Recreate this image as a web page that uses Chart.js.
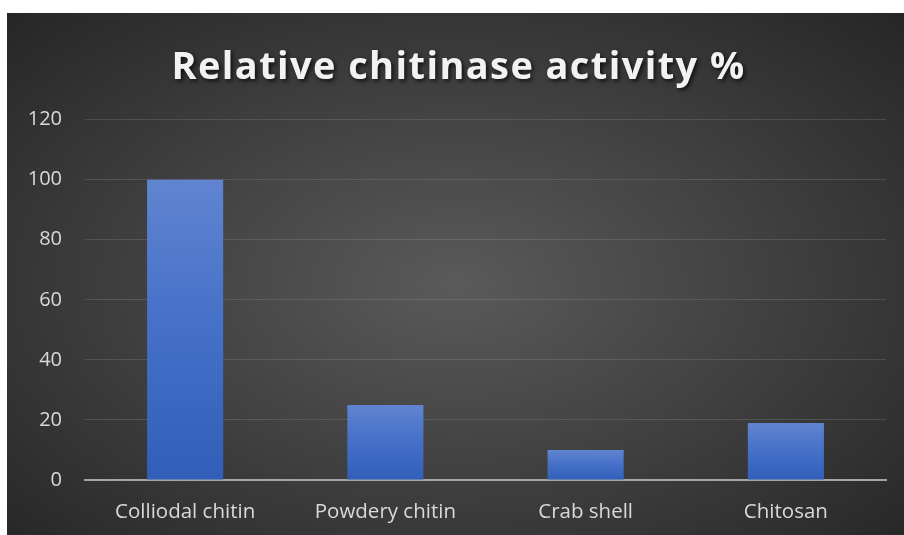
<!DOCTYPE html>
<html>
<head>
<meta charset="utf-8">
<script src="https://cdn.jsdelivr.net/npm/chart.js@4/dist/chart.umd.min.js"></script>
<style>
  html, body { margin: 0; padding: 0; background: #fff; }
  #frame {
    position: absolute; left: 7px; top: 13px; width: 897px; height: 522px;
    background: radial-gradient(ellipse at 50% 52%, #5a5a5a 0%, #404040 50%, #262626 100%);
  }
  #chart { display: block; width: 897px; height: 522px; }
</style>
</head>
<body>
<div id="frame"><canvas id="chart" width="897" height="522"></canvas></div>
<script>
// ---------------------------------------------------------------------------
// Data
// ---------------------------------------------------------------------------

const TITLE = "Relative chitinase activity %";
const CATEGORIES = ["Colliodal chitin", "Powdery chitin", "Crab shell", "Chitosan"];
const ACTIVITY = [100, 25, 10, 19];
const Y_MIN = 0;
const Y_MAX = 120;
const Y_STEP = 20;

const FONT = "'Open Sans', Lato, sans-serif";
const LABEL_COLOR = "#d9d9d9";

// each bar gets its own top-to-bottom blue gradient, like the Office fill
function barFill(ctx) {
  const chart = ctx.chart;
  const y = chart.scales && chart.scales.y;
  if (!chart.chartArea || !y || ctx.type !== "data") return "#4472c4";
  const top = y.getPixelForValue(ctx.raw);
  const bottom = y.getPixelForValue(0);
  const g = chart.ctx.createLinearGradient(0, top, 0, bottom);
  g.addColorStop(0, "#6084d0");
  g.addColorStop(0.5, "#4470c8");
  g.addColorStop(1, "#315eb8");
  return g;
}

// give the title the soft drop shadow seen in the reference
const titleShadow = {
  id: "titleShadow",
  afterLayout(chart) {
    const tb = chart.titleBlock;
    if (!tb || tb._shadowed) return;
    const draw = tb.draw.bind(tb);
    tb.draw = function () {
      const c = chart.ctx;
      c.save();
      c.translate(12, 0);
      c.shadowColor = "rgba(0,0,0,0.75)";
      c.shadowBlur = 4;
      c.shadowOffsetX = 2;
      c.shadowOffsetY = 2;
      c.letterSpacing = "1.4px";
      draw();
      c.restore();
    };
    tb._shadowed = true;
  },
};

new Chart(document.getElementById("chart"), {
  type: "bar",
  data: {
    labels: CATEGORIES,
    datasets: [{
      label: "Relative activity",
      data: ACTIVITY,
      backgroundColor: barFill,
      borderWidth: 0,
      categoryPercentage: 1,
      barPercentage: 0.38,
    }],
  },
  options: {
    responsive: false,
    maintainAspectRatio: false,
    animation: false,
    layout: { padding: { left: 0, right: 18, top: 0, bottom: 0 } },
    plugins: {
      legend: { display: false },
      tooltip: { enabled: false },
      title: {
        display: true,
        text: TITLE,
        color: "#f2f2f2",
        font: { family: FONT, size: 38, weight: "bold", lineHeight: 1.2 },
        padding: { top: 32, bottom: 29 },
      },
    },
    scales: {
      x: {
        afterFit(scale) { scale.height = 55; },
        grid: { display: false },
        border: { display: true, color: "#a6a6a6", width: 2 },
        ticks: { color: LABEL_COLOR, font: { family: FONT, size: 20.5 }, padding: 12 },
      },
      y: {
        min: Y_MIN,
        max: Y_MAX,
        afterFit(scale) { scale.width = 78; },
        grid: {
          color: ctx => ctx.tick && ctx.tick.value === 0 ? "rgba(0,0,0,0)" : "rgba(255,255,255,0.12)",
          lineWidth: 1,
          drawTicks: false,
        },
        border: { display: false },
        ticks: {
          stepSize: Y_STEP,
          color: LABEL_COLOR,
          font: { family: FONT, size: 20 },
          padding: 23,
        },
      },
    },
  },
  plugins: [titleShadow],
});
</script>
</body>
</html>
